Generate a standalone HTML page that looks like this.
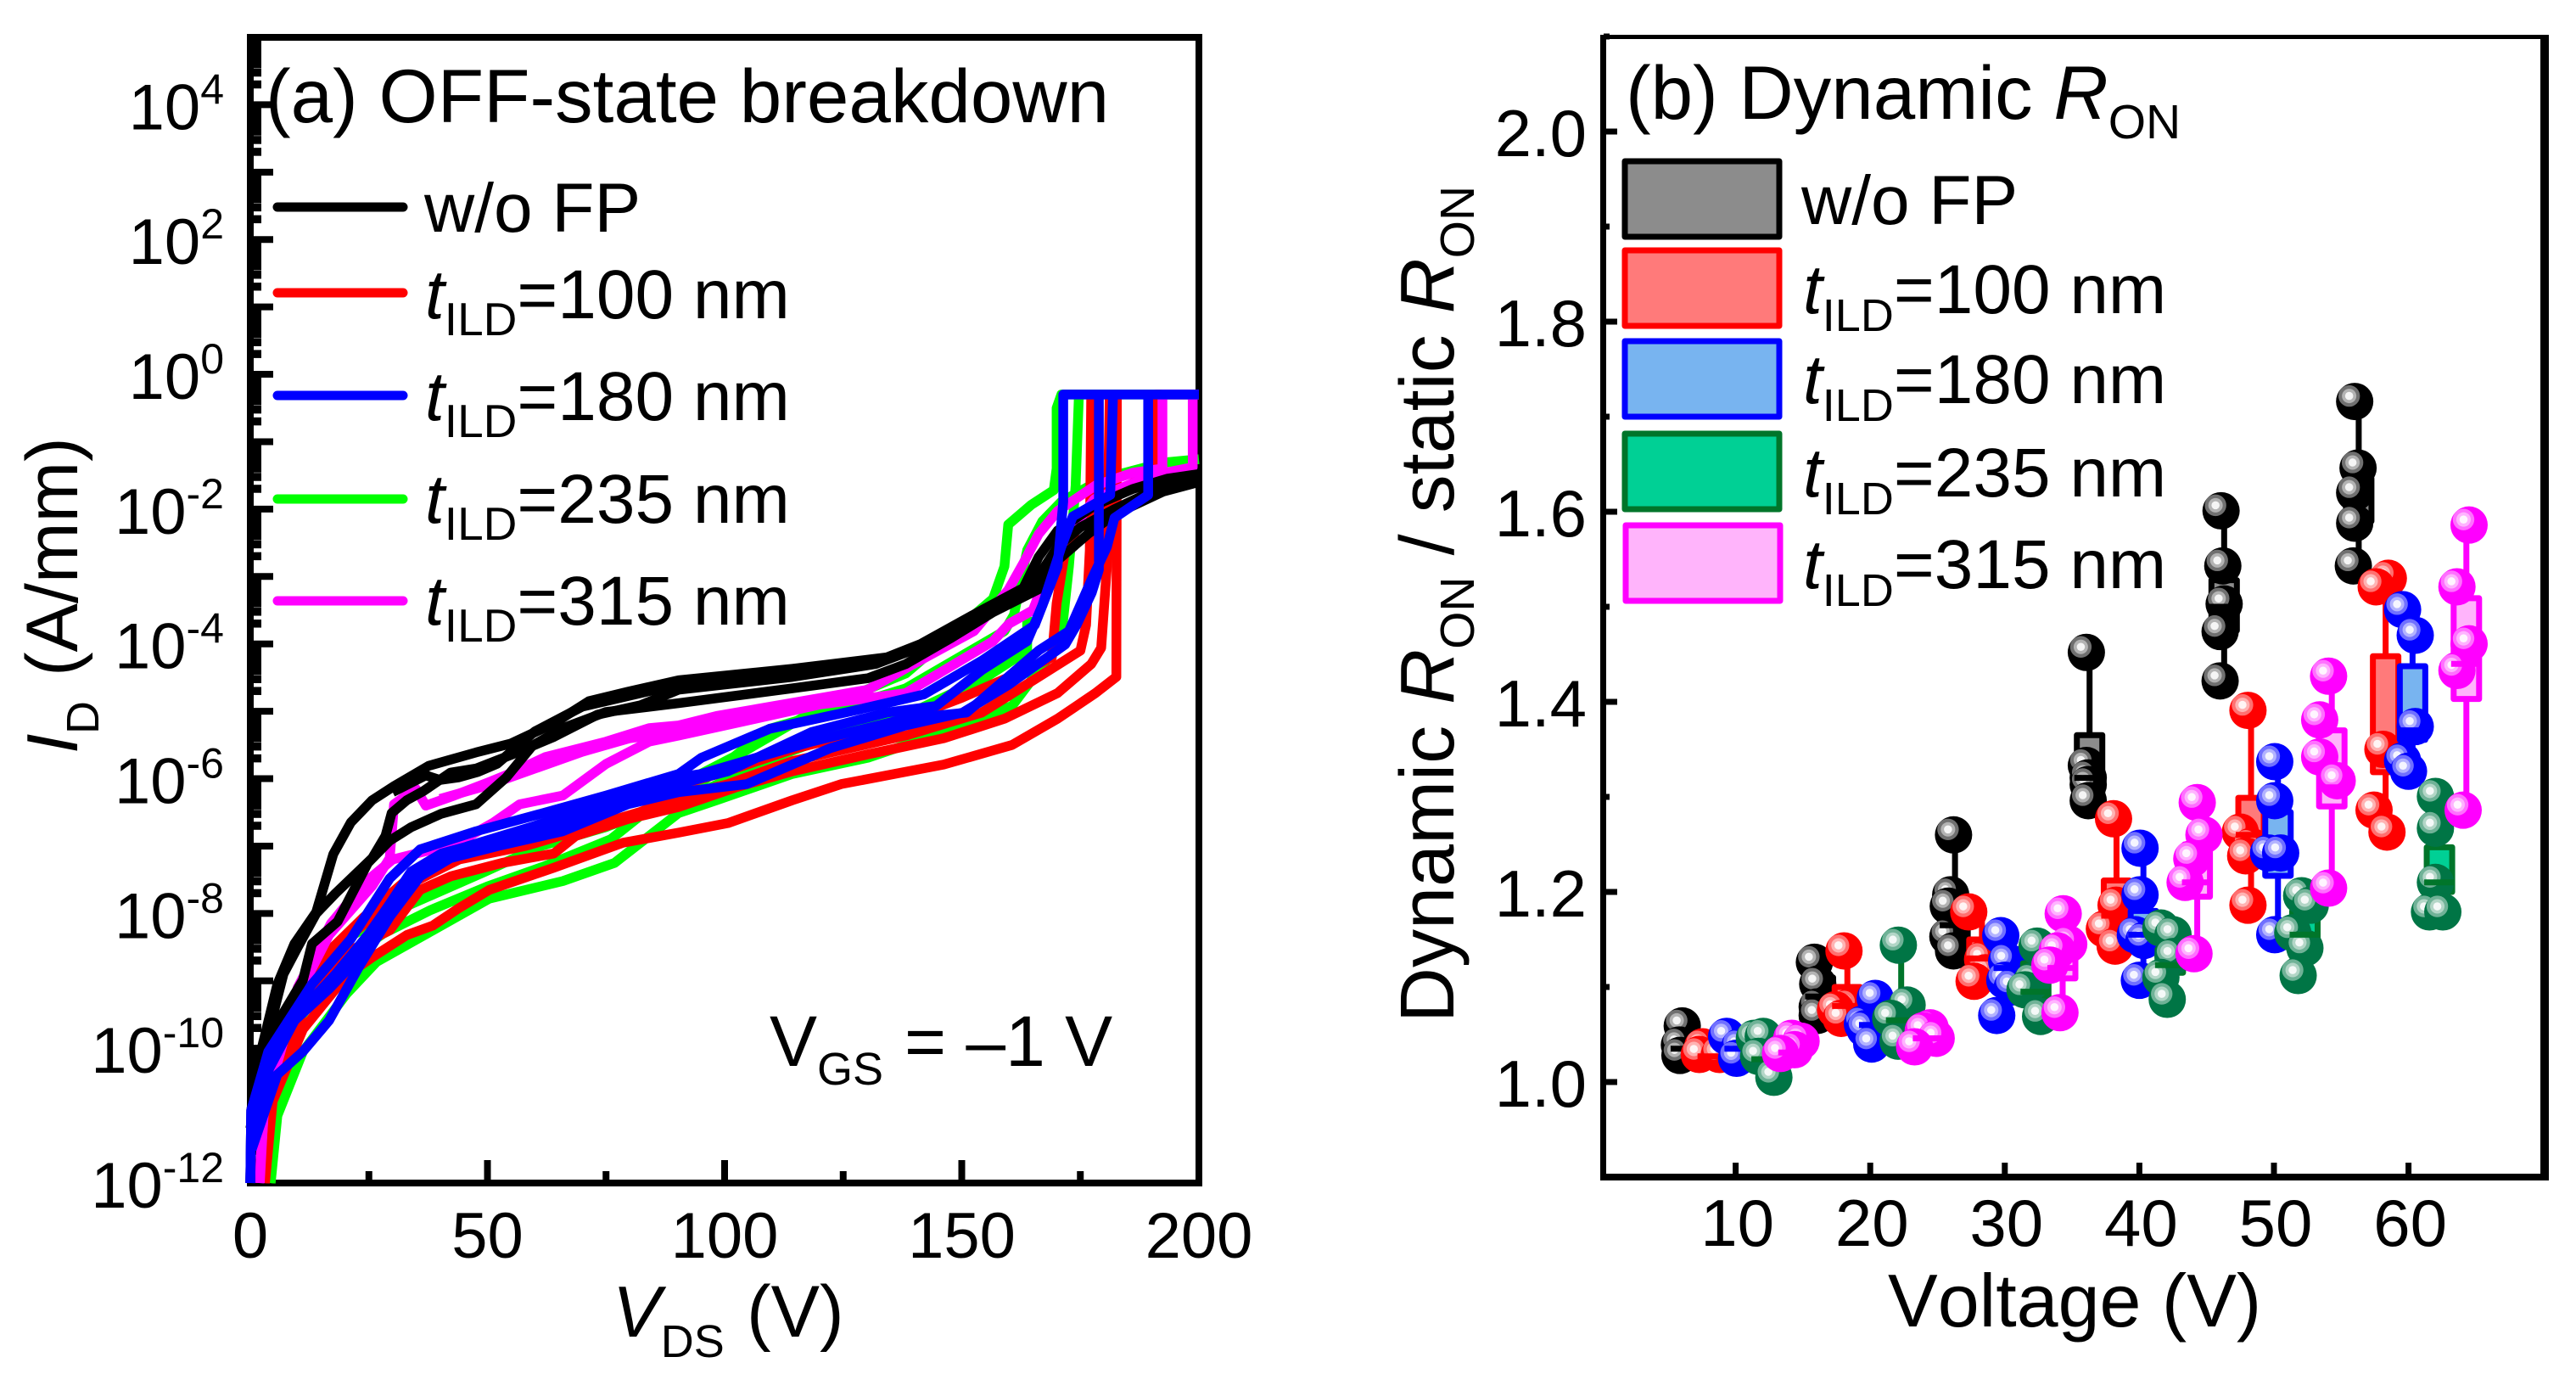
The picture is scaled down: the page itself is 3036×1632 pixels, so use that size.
<!DOCTYPE html>
<html>
<head>
<meta charset="utf-8">
<title>OFF-state breakdown and dynamic RON</title>
<style>
html,body{margin:0;padding:0;background:#fff;width:3036px;height:1632px;overflow:hidden}
svg{display:block}
text{font-family:"Liberation Sans",Arial,sans-serif;fill:#000;font-kerning:none}
</style>
</head>
<body>
<svg id="figure" xmlns="http://www.w3.org/2000/svg" width="3036" height="1632" viewBox="0 0 3036 1632">
  <rect x="0" y="0" width="3036" height="1632" fill="#fff"/>
  <g id="panelA"></g>
  <g id="panelB"></g>

  <text x="313" y="144" font-size="89">(a) OFF-state breakdown</text>
  <line x1="327" x2="475" y1="244" y2="244" stroke="#000" stroke-width="11" stroke-linecap="round"/>
  <line x1="327" x2="475" y1="345" y2="345" stroke="#f00" stroke-width="11" stroke-linecap="round"/>
  <line x1="327" x2="475" y1="466" y2="466" stroke="#00f" stroke-width="11" stroke-linecap="round"/>
  <line x1="327" x2="475" y1="588" y2="588" stroke="#0f0" stroke-width="11" stroke-linecap="round"/>
  <line x1="327" x2="475" y1="708" y2="708" stroke="#f0f" stroke-width="11" stroke-linecap="round"/>
  <text x="500" y="273" font-size="82">w/o FP</text>
  <text x="501" y="375" font-size="82"><tspan font-style="italic">t</tspan><tspan font-size="55" dy="20">ILD</tspan><tspan dy="-20">=100 nm</tspan></text>
  <text x="501" y="495" font-size="82"><tspan font-style="italic">t</tspan><tspan font-size="55" dy="20">ILD</tspan><tspan dy="-20">=180 nm</tspan></text>
  <text x="501" y="616" font-size="82"><tspan font-style="italic">t</tspan><tspan font-size="55" dy="20">ILD</tspan><tspan dy="-20">=235 nm</tspan></text>
  <text x="501" y="736" font-size="82"><tspan font-style="italic">t</tspan><tspan font-size="55" dy="20">ILD</tspan><tspan dy="-20">=315 nm</tspan></text>
  <text x="907" y="1256" font-size="84">V<tspan font-size="54" dy="22">GS</tspan></text>
  <text x="1066" y="1256" font-size="84">= –1 V</text>
  <text x="722" y="1575" font-size="85"><tspan font-style="italic">V</tspan><tspan font-size="54" dy="24">DS</tspan></text>
  <text x="880" y="1575" font-size="86">(V)</text>
  <text transform="translate(91,888) rotate(-90)" font-size="85" font-style="italic">I</text>
  <text transform="translate(116,865) rotate(-90)" font-size="54">D</text>
  <text transform="translate(91,797) rotate(-90)" font-size="86">(A/mm)</text>

  <text x="1916" y="140" font-size="89">(b) Dynamic <tspan font-style="italic">R</tspan><tspan font-size="57" dy="23">ON</tspan></text>
  <rect x="1915" y="190" width="182" height="89" fill="#8c8c8c" stroke="#000" stroke-width="7" stroke-linejoin="round"/>
  <rect x="1915" y="295" width="182" height="89" fill="#ff7a7a" stroke="#f00" stroke-width="7" stroke-linejoin="round"/>
  <rect x="1915" y="402" width="182" height="89" fill="#78b4f0" stroke="#00f" stroke-width="7" stroke-linejoin="round"/>
  <rect x="1915" y="511" width="182" height="89" fill="#00d095" stroke="#00752a" stroke-width="7" stroke-linejoin="round"/>
  <rect x="1916" y="619" width="182" height="89" fill="#ffb4fb" stroke="#f0f" stroke-width="7" stroke-linejoin="round"/>
  <text x="2123" y="264" font-size="82">w/o FP</text>
  <text x="2125" y="369" font-size="82"><tspan font-style="italic">t</tspan><tspan font-size="54" dy="21">ILD</tspan><tspan dy="-21">=100 nm</tspan></text>
  <text x="2125" y="475" font-size="82"><tspan font-style="italic">t</tspan><tspan font-size="54" dy="21">ILD</tspan><tspan dy="-21">=180 nm</tspan></text>
  <text x="2125" y="585" font-size="82"><tspan font-style="italic">t</tspan><tspan font-size="54" dy="21">ILD</tspan><tspan dy="-21">=235 nm</tspan></text>
  <text x="2125" y="693" font-size="82"><tspan font-style="italic">t</tspan><tspan font-size="54" dy="21">ILD</tspan><tspan dy="-21">=315 nm</tspan></text>
  <text x="2225" y="1563" font-size="88">Voltage (V)</text>
  <text transform="translate(1713,1205) rotate(-90)" font-size="90">Dynamic <tspan font-style="italic">R</tspan><tspan font-size="57" dy="24">ON</tspan><tspan dy="-24"> / static </tspan><tspan font-style="italic">R</tspan><tspan font-size="57" dy="24">ON</tspan></text>
</svg>

<script>
// ---------- Panel (a): ID-VDS curves, values are [VDS in V, log10(ID in A/mm)] ----------
const xTickLabelsA = [0, 50, 100, 150, 200];
const xMinorTicksA = [25, 75, 125, 175];
const yMajorExponents = [-12,-11,-10,-9,-8,-7,-6,-5,-4,-3,-2,-1,0,1,2,3,4,5];
const yLabelExponents = [-12,-10,-8,-6,-4,-2,0,2,4];
const minorMultipliers = [2,3,4,5,6,7,8,9];

const greenCurve1 = [[4.3,-12],[5.7,-11],[11.1,-10.05],[20.3,-9.19],[26.6,-8.72],[38.5,-8.25],[50.4,-7.78],[65.9,-7.52],[76.8,-7.25],[90.3,-6.51],[98.3,-6.32],[114.3,-5.93],[130.2,-5.69],[146.2,-5.31],[160.6,-4.92],[170.9,-3.96],[172.6,-2.85],[174,-1.65],[174.7,-0.3]];
const greenCurve2 = [[4,-12],[5,-10.7],[13,-9],[18.4,-8.45],[29.4,-8],[38.5,-7.72],[49.5,-7.38],[61.3,-7],[74.9,-6.72],[90.3,-6.32],[109.5,-5.26],[126.2,-4.92],[138.2,-4.66],[159,-3.81],[161,-3.57],[163.8,-2.61],[167,-2.18],[171,-1.89],[179.7,-1.55],[192.5,-1.31],[200,-1.26]];
const greenCurve3 = [[4,-12],[5,-10.8],[10,-9.6],[18,-8.8],[28,-8.3],[38,-7.95],[50,-7.6],[62,-7.3],[76,-6.9],[90.3,-6.1],[104,-5.6],[118.3,-5.02],[138.2,-4.44],[156.6,-3.33],[159,-2.85],[159.8,-2.23],[164.6,-1.94],[169.4,-1.72],[170,-1.4],[170,-0.5],[171,-0.3],[200,-0.3]];
const greenCurve4 = [[95,-6.2],[110,-5.7],[125,-5.3],[140,-5],[155,-4.5],[163.8,-4.1],[163.8,-3.6]];

const redCurve1 = [[3.1,-12],[4.7,-10.79],[11.1,-9.72],[20.3,-8.92],[25.7,-8.65],[33,-8.32],[38.5,-8.18],[44,-7.92],[50.4,-7.65],[64,-7.32],[78.6,-6.95],[90.3,-6.8],[100.7,-6.66],[114.3,-6.32],[124.6,-6.08],[146.2,-5.79],[160.6,-5.5],[170.2,-5.11],[178.2,-4.73],[182.6,-4.49],[182.7,-0.3]];
const redCurve2 = [[3,-12],[4,-11],[5.7,-10.25],[13,-9.19],[20.3,-8.58],[29.4,-8.25],[35.8,-7.65],[42.2,-7.45],[53.1,-7.25],[64,-7.11],[68.6,-6.85],[79.6,-6.6],[90.3,-6.42],[102.3,-6.13],[114.3,-5.89],[130.2,-5.64],[146.2,-5.4],[159,-5.11],[170.2,-4.73],[177.3,-4.3],[179.4,-4.06],[180.6,-2.85],[181.2,-0.3]];
const redCurve3 = [[2.8,-12],[4,-10.6],[10,-9.3],[18,-8.5],[25,-8.1],[34,-7.55],[44,-7.2],[58,-7],[70,-6.75],[82,-6.5],[90.3,-6.27],[100.7,-6.08],[114.3,-5.74],[138.2,-5.36],[154.2,-5.02],[166.2,-4.49],[175,-4.1],[176.2,-3.72],[177,-2.61],[177.3,-0.3]];
const redCurve4 = [[2.5,-12],[3.5,-10.5],[9,-9.3],[16,-8.6],[24,-8.05],[33,-7.5],[42,-7.15],[55,-6.9],[68,-6.7],[80,-6.35],[90.3,-6.1],[100,-5.9],[115,-5.55],[135,-5.2],[150,-4.8],[163,-4.4],[169,-4.2],[170,-3.4],[171.8,-2.61],[175,-2.2],[183,-1.74],[191,-1.41],[191,-0.3],[200,-0.3]];

const magentaCurve1 = [[1.8,-12],[2.9,-10.92],[9.3,-9.32],[16.6,-8.32],[25.7,-7.59],[29.4,-7.18],[30.3,-6.38],[34.9,-6.15],[37,-6.4],[43,-6.25],[50.4,-6.05],[54.9,-5.92],[62.2,-5.68],[75,-5.45],[84.1,-5.25],[90.3,-5.21],[98.3,-5.07],[122.2,-4.78],[130.2,-4.68],[139.8,-4.3],[152.6,-3.81],[159.8,-3.2],[163,-2.8],[166.2,-2.37],[170.2,-2.03],[178.2,-1.65],[186.1,-1.46],[192.3,-1.4],[192.3,-0.3],[200,-0.3]];
const magentaCurve2 = [[2,-12],[3,-10.7],[10,-9.1],[17,-8.15],[24,-7.55],[30,-7.2],[38.5,-7.05],[45,-6.9],[51.3,-6.65],[56.8,-6.38],[65.9,-6.25],[75,-5.78],[84.1,-5.45],[90.3,-5.36],[104,-5.15],[120,-4.9],[138.2,-4.73],[156.6,-3.96],[160,-3.7],[165,-3.5],[170,-2.6],[178,-1.85],[190,-1.5],[198.7,-1.38],[198.7,-0.3],[200,-0.3]];
const magentaCurve3 = [[40,-6.3],[50,-6.1],[60,-5.85],[70,-5.6],[80,-5.4],[90.3,-5.3],[100,-5.15],[120,-4.85]];

const blackCurve1 = [[0,-12],[0.2,-10.92],[2,-10.12],[5.7,-9.05],[9.3,-8.45],[13.9,-7.98],[17.5,-7.12],[21.2,-6.65],[25.7,-6.32],[30.3,-6.11],[37.6,-5.81],[47.6,-5.61],[54.9,-5.48],[64,-5.18],[71.4,-4.85],[79.6,-4.71],[90.3,-4.54],[114.3,-4.37],[134.2,-4.2],[141.4,-4],[154.2,-3.5],[163,-3.17],[166.2,-2.71],[170.2,-2.32],[178.2,-1.94],[186.1,-1.7],[193.3,-1.55],[200,-1.48]];
const blackCurve2 = [[0,-12],[0.3,-10.9],[3,-10],[7,-8.9],[10,-8.5],[13.9,-8],[18,-7.7],[25.7,-7.18],[28.5,-6.85],[29.8,-6.51],[33,-6.32],[36.6,-6.18],[42.2,-5.91],[47.6,-5.85],[54.9,-5.65],[64,-5.38],[73.2,-5.05],[82.3,-4.91],[90.3,-4.68],[114.3,-4.49],[131.8,-4.3],[144.6,-3.96],[154.2,-3.57],[162.2,-3.29],[166.6,-2.95],[170.2,-2.56],[175,-2.27],[182.2,-2],[190,-1.74],[200,-1.54]];
const blackCurve3 = [[0,-11.19],[3.8,-9.85],[11.1,-8.99],[13,-8.45],[18.4,-8.12],[24.8,-7.25],[29.4,-6.92],[33.9,-6.72],[40.3,-6.52],[47.6,-6.38],[54,-5.98],[59.5,-5.51],[65.9,-5.25],[75,-5.01],[90.3,-4.88],[114.3,-4.66],[130.2,-4.51],[138.2,-4.3],[147.8,-3.91],[156.6,-3.53],[166.2,-3.19],[170.2,-2.76],[176.6,-2.37],[182.2,-2.08],[192.5,-1.74],[200,-1.6]];
const blackCurve4 = [[30,-6.2],[37,-5.95],[40,-6.02],[44,-5.98],[48,-5.9],[52,-5.78],[60,-5.3],[70,-4.93],[90.3,-4.6]];

const blueCurve1 = [[0,-12],[0.2,-10.92],[3.8,-10.05],[13,-9.05],[21.2,-8.38],[29.4,-7.48],[35.8,-7.05],[47.6,-6.78],[61.3,-6.52],[75,-6.25],[90.3,-5.93],[95.1,-5.69],[109.5,-5.26],[128.6,-4.97],[142,-4.75],[154.2,-4.25],[165.4,-3.72],[170.2,-2.85],[171.4,-1.89],[171.4,-0.3],[200,-0.3]];
const blueCurve2 = [[0,-12],[0.2,-10.92],[3.8,-10.25],[9.3,-9.59],[16.6,-9.12],[23,-8.65],[27.6,-8.05],[33.9,-7.38],[40.3,-7.11],[50.4,-6.92],[65,-6.72],[78,-6.4],[90.3,-6.08],[100.7,-5.89],[118.3,-5.31],[134.2,-5.02],[144.6,-4.92],[154.2,-4.39],[163.8,-3.96],[167,-3.43],[171,-2.56],[173.4,-2.11],[181.3,-1.79],[181.9,-0.3]];
const blueCurve3 = [[0.3,-11.5],[5.7,-10.39],[11.1,-10.05],[16.6,-9.59],[23,-8.78],[29.4,-8.05],[35.8,-7.45],[42.2,-7.18],[52.2,-7],[65.9,-6.78],[79.6,-6.38],[90.3,-6.2],[104.7,-6.08],[122.2,-5.55],[138.2,-5.21],[150.2,-5.02],[160,-4.6],[171.8,-4.01],[174.2,-3.72],[177.4,-3.24],[178.9,-2.9],[178.9,-0.3]];
const blueCurve4 = [[0.2,-11.2],[4,-10.3],[10,-9.5],[18,-8.9],[25,-8.3],[31,-7.7],[37,-7.25],[46,-7],[60,-6.7],[75,-6.35],[90.3,-5.98],[95,-5.93],[118.3,-5.45],[138.2,-5.11],[151,-5.02],[166.2,-4.1],[172.6,-3.81],[177.4,-3.04],[180.6,-2.56],[182.2,-2.13],[189.3,-1.79],[189.3,-0.3]];

// ---------- Panel (b): dynamic RON points, values are [voltage in V, ratio] ----------
const xTickLabelsB = [10, 20, 30, 40, 50, 60];
const yTickLabelsB = ['1.0', '1.2', '1.4', '1.6', '1.8', '2.0'];
const yMinorTicksB = [0.9, 1.1, 1.3, 1.5, 1.7, 1.9, 2.1];

const blackPoints = [
 [[6.03,1.059],[5.82,1.039],[5.86,1.028]],
 [[15.85,1.126],[16.1,1.103],[16.06,1.079],[16.06,1.07]],
 [[26.19,1.26],[25.98,1.197],[25.8,1.185],[25.77,1.153],[26.19,1.138]],
 [[36.06,1.452],[36.06,1.333],[36.2,1.32],[36.2,1.313],[36.2,1.296]],
 [[46.07,1.601],[46.2,1.543],[46.3,1.503],[46,1.474],[46,1.422]],
 [[56,1.716],[56.25,1.646],[56,1.62],[56,1.588],[55.9,1.543]]
];
const blackBoxes = [[6.3,1.03,1.035,1.05],[16.3,1.08,1.09,1.11],[26.3,1.15,1.165,1.19],[36.3,1.3,1.32,1.365],[46.3,1.475,1.5,1.528],[56.3,1.59,1.61,1.635]];

const redPoints = [
 [[7.55,1.037],[7.3,1.029],[8.8,1.029]],
 [[18.05,1.138],[18.47,1.079],[17.42,1.076],[17.84,1.067]],
 [[27.32,1.179],[28.35,1.129],[28.56,1.115],[27.72,1.106]],
 [[38.08,1.277],[38.27,1.186],[37.4,1.161],[38.2,1.143]],
 [[48.07,1.391],[47.5,1.263],[48.3,1.248],[47.9,1.238],[48.07,1.186]],
 [[58.5,1.53],[57.6,1.521],[58.1,1.35],[57.44,1.286],[58.4,1.263]]
];
const redBoxes = [[8.3,1.028,1.027,1.042],[18.3,1.07,1.08,1.1],[28.3,1.12,1.13,1.15],[38.3,1.16,1.175,1.212],[48.3,1.24,1.26,1.299],[58.3,1.326,1.34,1.448]];

const bluePoints = [
 [[9.33,1.048],[10.3,1.037],[10.07,1.025]],
 [[20.37,1.088],[19.42,1.061],[19.6,1.056],[20.11,1.04]],
 [[29.7,1.154],[30.14,1.127],[30,1.107],[30.56,1.1],[29.4,1.07]],
 [[40.05,1.246],[40.05,1.197],[39.7,1.155],[40.34,1.149],[40,1.107]],
 [[50.06,1.337],[50.06,1.296],[49.6,1.241],[50.5,1.241],[50.06,1.155]],
 [[59.56,1.497],[60.5,1.47],[60.5,1.374],[59.56,1.338],[60,1.327]]
];
const blueBoxes = [[10.3,1.03,1.035,1.045],[20.3,1.055,1.06,1.075],[30.3,1.11,1.12,1.14],[40.3,1.15,1.155,1.18],[50.3,1.217,1.23,1.284],[60.3,1.36,1.37,1.4375]];

const greenPoints = [
 [[11.39,1.046],[12.05,1.048],[11.7,1.027],[12.84,1.005]],
 [[22.09,1.144],[22.74,1.081],[21.52,1.067],[22.07,1.043]],
 [[32.4,1.143],[32.03,1.106],[31.5,1.097],[32.66,1.069]],
 [[41.6,1.162],[42.5,1.155],[42.5,1.132],[41.6,1.11],[42.07,1.087]],
 [[52.06,1.196],[52.7,1.186],[51.4,1.157],[52.3,1.141],[51.8,1.112]],
 [[62,1.3005],[62,1.267],[62,1.21],[61.56,1.179],[62.55,1.179]]
];
const greenBoxes = [[12.3,1.02,1.024,1.04],[22.3,1.06,1.065,1.078],[32.3,1.09,1.095,1.125],[42.3,1.115,1.123,1.14],[52.3,1.148,1.155,1.18],[62.3,1.2,1.21,1.247]];

const magentaPoints = [
 [[14.17,1.046],[14.86,1.043],[14.38,1.034],[13.33,1.03]],
 [[24.46,1.057],[23.94,1.054],[24.9,1.046],[23.3,1.037]],
 [[34.34,1.177],[34.75,1.145],[33.9,1.138],[33.35,1.123],[34.1,1.073]],
 [[44.3,1.294],[44.8,1.26],[43.9,1.235],[43.4,1.21],[44.06,1.135]],
 [[54.06,1.427],[53.4,1.381],[53.4,1.342],[54.7,1.317],[54.06,1.204]],
 [[64.5,1.586],[63.6,1.521],[64.5,1.461],[63.6,1.433],[64.06,1.286]]
];
const magentaBoxes = [[14.3,1.028,1.031,1.045],[24.3,1.04,1.046,1.06],[34.3,1.109,1.12,1.135],[44.3,1.195,1.21,1.25],[54.3,1.29,1.31,1.37],[64.3,1.403,1.44,1.509]];

// ---------- helpers ----------
const NS = 'http://www.w3.org/2000/svg';
function make(tag, attrs, parent) {
  const el = document.createElementNS(NS, tag);
  for (const k in attrs) el.setAttribute(k, attrs[k]);
  parent.appendChild(el);
  return el;
}
const panelA = document.getElementById('panelA');
const panelB = document.getElementById('panelB');

// ---------- Panel (a) axes ----------
const ax = { left: 295, right: 1413, bottom: 1394, top: 44, vMax: 200, eMin: -12, eMax: 5 };
function xA(v) { return ax.left + (ax.right - ax.left) * v / ax.vMax; }
function yA(e) { return ax.bottom - (ax.bottom - ax.top) * (e - ax.eMin) / (ax.eMax - ax.eMin); }

const frameA = make('rect', { x: ax.left, y: ax.top, width: ax.right - ax.left, height: ax.bottom - ax.top, fill: 'none', stroke: '#000', 'stroke-width': 8 }, panelA);



yMajorExponents.forEach(function (e) {
  const tick = make('line', { x1: ax.left, x2: 322, y1: yA(e), y2: yA(e), stroke: '#000', 'stroke-width': 8 }, panelA);
  
  
  if (e < ax.eMax) {
    minorMultipliers.forEach(function (m) {
      const my = yA(e + Math.log10(m));
      const minor = make('line', { x1: ax.left, x2: 308, y1: my, y2: my, stroke: '#000', 'stroke-width': 9.5 }, panelA);
      
      
    });
  }
});
yLabelExponents.forEach(function (e) {
  const label = make('text', { x: 264, y: yA(e) + 29, 'font-size': 76, 'text-anchor': 'end' }, panelA);
  
  
  label.appendChild(document.createTextNode('10'));
  const sup = make('tspan', { 'font-size': 50, dy: -30 }, label);
  sup.textContent = String(e);
});
xTickLabelsA.forEach(function (v) {
  const tick = make('line', { x1: xA(v), x2: xA(v), y1: 1367, y2: 1394, stroke: '#000', 'stroke-width': 8 }, panelA);
  
  
  const label = make('text', { x: xA(v), y: 1482, 'font-size': 76, 'text-anchor': 'middle' }, panelA);
  
  
  label.textContent = String(v);
});
xMinorTicksA.forEach(function (v) {
  const tick = make('line', { x1: xA(v), x2: xA(v), y1: 1380, y2: 1394, stroke: '#000', 'stroke-width': 8 }, panelA);
  
  
});

// ---------- Panel (a) curves ----------
const curveSeries = [
  { name: 'curve-235nm', color: '#00ff00', curves: [greenCurve1, greenCurve2, greenCurve3, greenCurve4] },
  { name: 'curve-100nm', color: '#ff0000', curves: [redCurve1, redCurve2, redCurve3, redCurve4] },
  { name: 'curve-315nm', color: '#ff00ff', curves: [magentaCurve1, magentaCurve2, magentaCurve3] },
  { name: 'curve-no-fp', color: '#000000', curves: [blackCurve1, blackCurve2, blackCurve3, blackCurve4] },
  { name: 'curve-180nm', color: '#0000ff', curves: [blueCurve1, blueCurve2, blueCurve3, blueCurve4] }
];
curveSeries.forEach(function (s) {
  s.curves.forEach(function (c) {
    const d = c.map(function (p, i) { return (i ? 'L' : 'M') + xA(p[0]).toFixed(1) + ' ' + yA(p[1]).toFixed(1); }).join(' ');
    const path = make('path', { d: d, fill: 'none', stroke: s.color, 'stroke-width': 11.5, 'stroke-linejoin': 'round' }, panelA);
    
    
  });
});

// ---------- Panel (b) axes ----------
const bx = { x0: 1887, pxPerV: 15.86, y1: 1275, pxPerUnit: 1120 };
function xB(v) { return bx.x0 + bx.pxPerV * v; }
function yB(r) { return bx.y1 - bx.pxPerUnit * (r - 1); }

const frameParts = [
  ['axis-left-b', 1886, 41, 7, 1350],
  ['axis-top-b', 1886, 41, 1118, 5],
  ['axis-right-b', 2994, 41, 10, 1350],
  ['axis-bottom-b', 1886, 1383, 1118, 8]
];
frameParts.forEach(function (f) {
  const r = make('rect', { x: f[1], y: f[2], width: f[3], height: f[4], fill: '#000' }, panelB);
  
  
});
xTickLabelsB.forEach(function (v) {
  const tick = make('line', { x1: xB(v), x2: xB(v), y1: 1370, y2: 1384, stroke: '#000', 'stroke-width': 7 }, panelB);
  
  
  const label = make('text', { x: xB(v) + 2, y: 1468, 'font-size': 78, 'text-anchor': 'middle' }, panelB);
  
  
  label.textContent = String(v);
});
yTickLabelsB.forEach(function (t) {
  const r = parseFloat(t);
  const tick = make('line', { x1: 1890, x2: 1906, y1: yB(r), y2: yB(r), stroke: '#000', 'stroke-width': 7 }, panelB);
  
  
  const label = make('text', { x: 1870, y: yB(r) + 29, 'font-size': 78, 'text-anchor': 'end' }, panelB);
  
  
  label.textContent = t;
});
yMinorTicksB.forEach(function (r) {
  const tick = make('line', { x1: 1890, x2: 1897, y1: yB(r), y2: yB(r), stroke: '#000', 'stroke-width': 7 }, panelB);
  
  
});

// ---------- Panel (b) boxes and ball markers ----------
function mixWhite(rgb, t) {
  return 'rgb(' + rgb.map(function (c) { return Math.round(c + (255 - c) * t); }).join(',') + ')';
}
const boxSeries = [
  { name: 'no-fp', stroke: '#000000', fill: '#8c8c8c', ball: [0, 0, 0], points: blackPoints, boxes: blackBoxes },
  { name: '100nm', stroke: '#ff0000', fill: '#ff7a7a', ball: [255, 0, 0], points: redPoints, boxes: redBoxes },
  { name: '180nm', stroke: '#0000ff', fill: '#78b4f0', ball: [0, 0, 255], points: bluePoints, boxes: blueBoxes },
  { name: '235nm', stroke: '#00752a', fill: '#00d095', ball: [0, 117, 69], points: greenPoints, boxes: greenBoxes },
  { name: '315nm', stroke: '#ff00ff', fill: '#ffb4fb', ball: [255, 0, 255], points: magentaPoints, boxes: magentaBoxes }
];
boxSeries.forEach(function (s) {
  s.boxes.forEach(function (b, i) {
    const pts = s.points[i];
    const vals = pts.map(function (p) { return p[1]; });
    const cx = xB(b[0]);
    const whisker = make('line', { x1: cx, x2: cx, y1: yB(Math.max.apply(null, vals)), y2: yB(Math.min.apply(null, vals)), stroke: s.stroke, 'stroke-width': 7 }, panelB);
    
    
    const box = make('rect', { x: cx - 15, y: yB(b[3]), width: 30, height: yB(b[1]) - yB(b[3]), fill: s.fill, stroke: s.stroke, 'stroke-width': 7, 'stroke-linejoin': 'round' }, panelB);
    
    
    pts.forEach(function (p) {
      const px = xB(p[0]);
      const py = yB(p[1]);
      const dot = make('g', {}, panelB);
      
      
      make('circle', { cx: px, cy: py, r: 22, fill: 'rgb(' + s.ball.join(',') + ')' }, dot);
      make('circle', { cx: px - 6.5, cy: py - 6.5, r: 12.7, fill: mixWhite(s.ball, 0.44) }, dot);
      make('circle', { cx: px - 6.5, cy: py - 6.5, r: 8.5, fill: mixWhite(s.ball, 0.7) }, dot);
      make('circle', { cx: px - 6.5, cy: py - 6.5, r: 4.8, fill: mixWhite(s.ball, 0.96) }, dot);
    });
    const median = make('line', { x1: cx - 18, x2: cx + 18, y1: yB(b[2]), y2: yB(b[2]), stroke: s.stroke, 'stroke-width': 7 }, panelB);
    
    
  });
});
</script>
</body>
</html>
